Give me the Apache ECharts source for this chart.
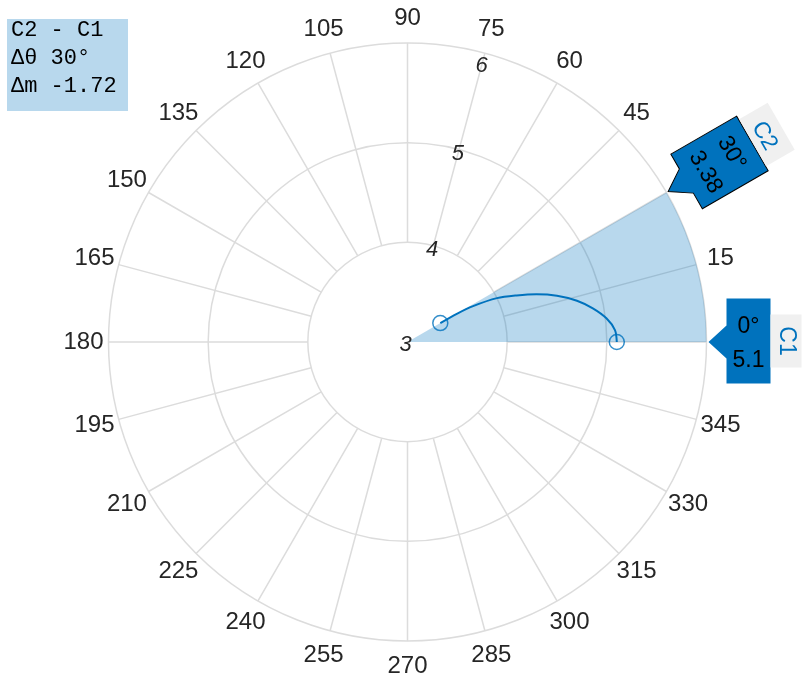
<!DOCTYPE html>
<html>
<head>
<meta charset="utf-8">
<script src="https://cdn.jsdelivr.net/npm/echarts@6/dist/echarts.min.js"></script>
<style>
  html, body { margin: 0; padding: 0; background: #fff; }
  #main { width: 803px; height: 684px; }
</style>
</head>
<body>
<div id="main"></div>
<script>
// theta ticks every 15 degrees, radius ticks 3..6
var thetaTicks = [0, 15, 30, 45, 60, 75, 90, 105, 120, 135, 150, 165, 180, 195, 210, 225, 240, 255, 270, 285, 300, 315, 330, 345];
var radiusTicks = [3, 4, 5, 6];

// the curve (degrees, magnitude)
var curveTheta = [0, 3.3, 6.8, 10.3, 13.7, 17.2, 20.3, 23.1, 26.1, 28.7, 29.8, 30];
var curveR = [5.10, 5.085, 5.01, 4.89, 4.75, 4.57, 4.38, 4.19, 4.00, 3.75, 3.57, 3.38];

// data cursors
var cursorNames = ['C1', 'C2'];
var cursorTheta = [0, 30];
var cursorR = [5.1, 3.38];

var rMin = 3, rMax = 6;
var blue = '#0072bd';
var gridColor = '#dcdcdc';
var textColor = '#262626';
var labelFont = '24px "Liberation Sans", Arial, sans-serif';
var cursorFont = '23px "Liberation Sans", Arial, sans-serif';

var myChart = echarts.init(document.getElementById('main'));

function unitFrom(api, r, th) {
  var c = api.coord([rMin, th]);
  var p = api.coord([r, th]);
  var dx = p[0] - c[0], dy = p[1] - c[1];
  var len = Math.sqrt(dx * dx + dy * dy) || 1;
  return { c: c, p: p, ux: dx / len, uy: dy / len, len: len };
}

// angle tick labels, centred a fixed distance outside the rim
function thetaLabel(params, api) {
  var th = api.value(1);
  var u = unitFrom(api, rMax, th);
  return {
    type: 'text',
    style: {
      text: String(th),
      x: u.c[0] + u.ux * (u.len + 25),
      y: u.c[1] + u.uy * (u.len + 25),
      align: 'center', verticalAlign: 'middle',
      font: labelFont, fill: textColor
    }
  };
}

// radius tick labels along the 75 degree spoke
function radiusLabel(params, api) {
  var r = api.value(0);
  var x, y;
  if (r === rMin) {
    var c = api.coord([rMin, 0]);
    x = c[0] - 2; y = c[1] + 3;
  } else {
    var u = unitFrom(api, r, 75);
    var inset = r === rMax ? 13 : 4.5;
    x = u.p[0] - u.ux * inset;
    y = u.p[1] - u.uy * inset;
  }
  return {
    type: 'text',
    style: {
      text: String(r), x: x, y: y,
      align: 'center', verticalAlign: 'middle',
      font: 'italic 22px "Liberation Sans", Arial, sans-serif', fill: textColor
    }
  };
}

// shaded span between the two cursors
function wedge(params, api) {
  var c = api.coord([rMin, 0]);
  var a = unitFrom(api, rMax, cursorTheta[0]);
  var b = unitFrom(api, rMax, cursorTheta[1]);
  return {
    type: 'sector',
    shape: {
      cx: c[0], cy: c[1], r0: 0, r: a.len,
      startAngle: Math.atan2(b.uy, b.ux),
      endAngle: Math.atan2(a.uy, a.ux),
      clockwise: true
    },
    style: { fill: 'rgba(0,114,189,0.28)' }
  };
}

// the cursor tags on the rim
function cursorTag(params, api) {
  var i = params.dataIndex;
  var th = cursorTheta[i];
  var u = unitFrom(api, rMax, th);
  var rot = th * Math.PI / 180;
  var level = Math.abs(th % 90) < 15;
  var children;
  if (level) {
    children = [
      { type: 'polygon', shape: { points: [[0, 0], [18, -16.5], [18, -43.5], [62, -43.5], [62, 41.5], [18, 41.5], [18, 16.5]] }, style: { fill: blue } },
      { type: 'rect', shape: { x: 62, y: -27.5, width: 31, height: 53 }, style: { fill: '#f0f0f0' } },
      { type: 'text', x: 40, y: -15, rotation: -rot, style: { text: th + '°', align: 'center', verticalAlign: 'middle', font: cursorFont, fill: '#000' } },
      { type: 'text', x: 40, y: 18.5, rotation: -rot, style: { text: String(cursorR[i]), align: 'center', verticalAlign: 'middle', font: cursorFont, fill: '#000' } },
      { type: 'text', x: 78, y: -1, rotation: -Math.PI / 2, style: { text: cursorNames[i], align: 'center', verticalAlign: 'middle', font: cursorFont, fill: blue } }
    ];
  } else {
    children = [
      { type: 'polygon', shape: { points: [[0, 0], [21, -14], [21, -31], [97, -31], [97, 32], [21, 32], [21, 14]] }, style: { fill: blue, stroke: '#000', lineWidth: 1 } },
      { type: 'rect', shape: { x: 97.5, y: -27, width: 33, height: 54 }, style: { fill: '#f0f0f0' } },
      { type: 'text', x: 74, y: -1.5, rotation: -Math.PI / 2, style: { text: th + '°', align: 'center', verticalAlign: 'middle', font: cursorFont, fill: '#000' } },
      { type: 'text', x: 42, y: 2, rotation: -Math.PI / 2, style: { text: String(cursorR[i]), align: 'center', verticalAlign: 'middle', font: cursorFont, fill: '#000' } },
      { type: 'text', x: 111, y: 0, rotation: -Math.PI / 2, style: { text: cursorNames[i], align: 'center', verticalAlign: 'middle', font: cursorFont, fill: blue } }
    ];
  }
  return {
    type: 'group',
    x: u.p[0] + u.ux * 2,
    y: u.p[1] + u.uy * 2,
    rotation: rot,
    children: children
  };
}

var infoLines = [
  cursorNames[1] + ' - ' + cursorNames[0],
  'Δθ ' + (cursorTheta[1] - cursorTheta[0]) + '°',
  'Δm ' + (cursorR[1] - cursorR[0]).toFixed(2)
];

var option = {
  animation: false,
  backgroundColor: '#fff',
  polar: [
    { center: [407.5, 342], radius: [0, 299] },
    { center: [407.5, 342], radius: [99.7, 299] }   // spokes stop at the first ring
  ],
  angleAxis: [
    {
      polarIndex: 0, type: 'value', min: 0, max: 360, interval: 15,
      startAngle: 0, clockwise: false,
      axisLine: { show: false }, axisTick: { show: false }, axisLabel: { show: false },
      splitLine: { show: false }
    },
    {
      polarIndex: 1, type: 'value', min: 0, max: 360, interval: 15,
      startAngle: 0, clockwise: false,
      axisLine: { show: false }, axisTick: { show: false }, axisLabel: { show: false },
      splitLine: { show: true, lineStyle: { color: gridColor, width: 1.5 } }
    }
  ],
  radiusAxis: [
    {
      polarIndex: 0, type: 'value', min: rMin, max: rMax, interval: 1,
      axisLine: { show: false }, axisTick: { show: false }, axisLabel: { show: false },
      splitLine: { show: true, lineStyle: { color: gridColor, width: 1.5 } }
    },
    {
      polarIndex: 1, type: 'value', min: 4, max: rMax, interval: 1, show: false,
      splitLine: { show: false }
    }
  ],
  graphic: [
    { type: 'rect', left: 7, top: 19, shape: { width: 121, height: 92 }, style: { fill: 'rgba(0,114,189,0.28)' }, z: 10 },
    { type: 'text', left: 11, top: 16, style: { text: infoLines.join('\n'), font: '22px "Liberation Mono", "Courier New", monospace', lineHeight: 28, fill: '#000' }, z: 11 }
  ],
  series: [
    {
      type: 'custom', coordinateSystem: 'polar', polarIndex: 0, z: 1, silent: true,
      renderItem: wedge, data: [[rMax, 0]]
    },
    {
      type: 'custom', coordinateSystem: 'polar', polarIndex: 0, z: 2, silent: true,
      renderItem: thetaLabel,
      data: thetaTicks.filter(function (t) { return cursorTheta.indexOf(t) < 0; })
        .map(function (t) { return [rMax, t]; })
    },
    {
      type: 'custom', coordinateSystem: 'polar', polarIndex: 0, z: 2, silent: true,
      renderItem: radiusLabel,
      data: radiusTicks.map(function (r) { return [r, 75]; })
    },
    {
      type: 'line', coordinateSystem: 'polar', polarIndex: 0, z: 3,
      smooth: 0.3, showSymbol: false,
      lineStyle: { color: blue, width: 2 },
      data: curveR.map(function (r, i) { return [r, curveTheta[i]]; })
    },
    {
      type: 'scatter', coordinateSystem: 'polar', polarIndex: 0, z: 4,
      symbol: 'circle', symbolSize: 15,
      itemStyle: { color: 'rgba(0,0,0,0)', borderColor: blue, borderWidth: 1.5 },
      data: cursorR.map(function (r, i) { return [r, cursorTheta[i]]; })
    },
    {
      type: 'custom', coordinateSystem: 'polar', polarIndex: 0, z: 5, silent: true,
      renderItem: cursorTag,
      data: cursorTheta.map(function (t) { return [rMax, t]; })
    }
  ]
};

myChart.setOption(option);
</script>
</body>
</html>
